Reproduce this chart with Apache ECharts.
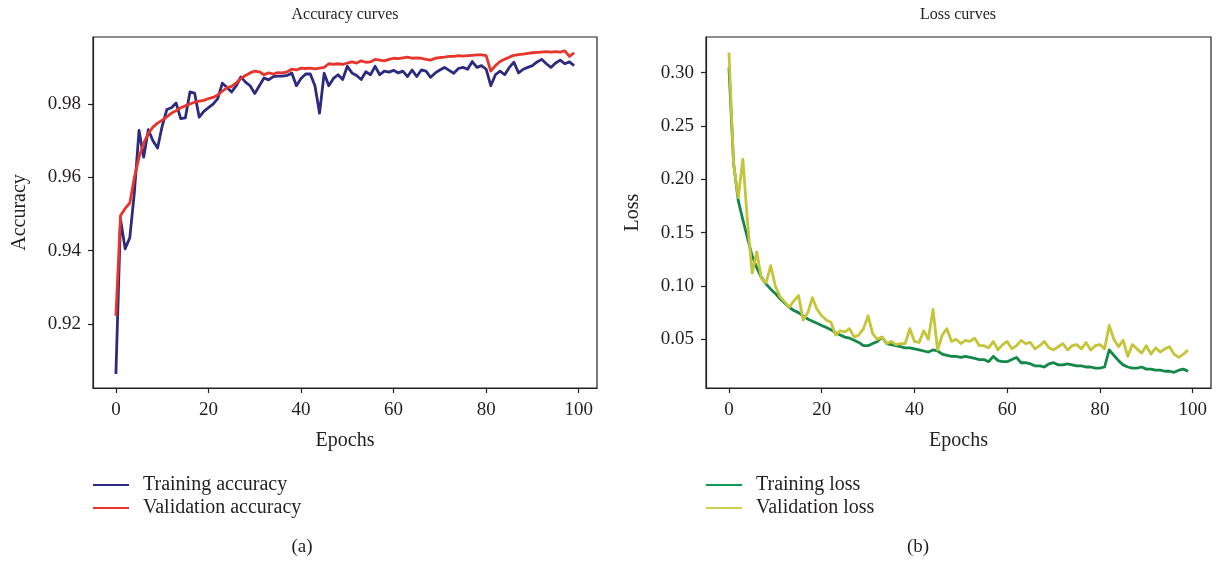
<!DOCTYPE html>
<html>
<head>
<meta charset="utf-8">
<script src="https://cdn.jsdelivr.net/npm/echarts@6/dist/echarts.min.js"></script>
<style>
html,body{margin:0;padding:0;background:#fff;}
#chart{width:1220px;height:563px;}
</style>
</head>
<body>
<div id="chart"></div>
<script>
// ---------- data ----------
const trainingAccuracy = [
0.9063,0.9485,0.9405,0.9435,0.9560,0.9728,0.9655,0.9730,0.9700,0.9680,
0.9740,0.9785,0.9790,0.9803,0.9760,0.9762,0.9833,0.9830,0.9764,0.9780,
0.9790,0.9800,0.9815,0.9857,0.9845,0.9833,0.9850,0.9874,0.9860,0.9850,
0.9829,0.9850,0.9871,0.9866,0.9875,0.9876,0.9876,0.9878,0.9885,0.9850,
0.9870,0.9882,0.9882,0.9850,0.9775,0.9884,0.9850,0.9870,0.9880,0.9867,
0.9903,0.9885,0.9878,0.9867,0.9888,0.9880,0.9903,0.9880,0.9890,0.9887,
0.9892,0.9885,0.9890,0.9875,0.9893,0.9875,0.9893,0.9890,0.9873,0.9885,
0.9893,0.9900,0.9892,0.9884,0.9897,0.9900,0.9895,0.9916,0.9900,0.9905,
0.9895,0.9850,0.9880,0.9890,0.9880,0.9900,0.9914,0.9885,0.9895,0.9900,
0.9905,0.9915,0.9922,0.9910,0.9900,0.9912,0.9920,0.9910,0.9915,0.9905];

const validationAccuracy = [
0.9222,0.9496,0.9515,0.9530,0.9600,0.9655,0.9693,0.9720,0.9737,0.9748,
0.9756,0.9765,0.9775,0.9782,0.9790,0.9795,0.9800,0.9805,0.9808,0.9810,
0.9815,0.9818,0.9825,0.9835,0.9845,0.9848,0.9858,0.9870,0.9878,0.9885,
0.9890,0.9888,0.9880,0.9885,0.9882,0.9886,0.9885,0.9888,0.9895,0.9893,
0.9898,0.9897,0.9898,0.9896,0.9898,0.9900,0.9910,0.9908,0.9910,0.9908,
0.9912,0.9915,0.9912,0.9918,0.9914,0.9915,0.9922,0.9920,0.9918,0.9922,
0.9925,0.9924,0.9926,0.9928,0.9925,0.9926,0.9925,0.9922,0.9920,0.9925,
0.9927,0.9928,0.9930,0.9930,0.9932,0.9931,0.9932,0.9933,0.9934,0.9934,
0.9932,0.9890,0.9905,0.9916,0.9922,0.9928,0.9933,0.9935,0.9936,0.9938,
0.9940,0.9941,0.9942,0.9943,0.9942,0.9943,0.9942,0.9945,0.9930,0.9940];

const trainingLoss = [
0.305,0.215,0.180,0.162,0.145,0.128,0.117,0.108,0.102,0.097,
0.093,0.088,0.084,0.080,0.077,0.075,0.072,0.069,0.067,0.065,
0.063,0.061,0.059,0.056,0.054,0.052,0.051,0.049,0.047,0.044,
0.044,0.046,0.048,0.052,0.046,0.045,0.044,0.043,0.042,0.042,
0.041,0.040,0.039,0.038,0.040,0.039,0.036,0.035,0.034,0.034,
0.033,0.034,0.033,0.032,0.031,0.031,0.029,0.034,0.030,0.029,
0.029,0.031,0.033,0.028,0.028,0.027,0.025,0.025,0.024,0.027,
0.028,0.026,0.026,0.027,0.026,0.025,0.025,0.024,0.024,0.023,
0.023,0.024,0.040,0.035,0.030,0.026,0.024,0.023,0.023,0.024,
0.022,0.022,0.021,0.021,0.020,0.020,0.019,0.021,0.022,0.020];

const validationLoss = [
0.319,0.214,0.183,0.219,0.160,0.112,0.132,0.107,0.103,0.119,
0.100,0.090,0.085,0.080,0.086,0.091,0.068,0.075,0.089,0.078,
0.072,0.068,0.066,0.054,0.058,0.057,0.060,0.052,0.054,0.060,
0.072,0.055,0.050,0.052,0.046,0.048,0.045,0.046,0.046,0.060,
0.048,0.047,0.058,0.050,0.078,0.040,0.054,0.060,0.048,0.050,
0.046,0.049,0.048,0.051,0.044,0.044,0.042,0.048,0.040,0.045,
0.048,0.041,0.044,0.049,0.046,0.047,0.041,0.044,0.048,0.042,
0.040,0.043,0.046,0.040,0.044,0.045,0.041,0.047,0.040,0.044,
0.045,0.041,0.063,0.050,0.043,0.049,0.034,0.045,0.041,0.037,
0.044,0.036,0.042,0.038,0.041,0.043,0.036,0.033,0.036,0.040];

const epochTicks = [0, 20, 40, 60, 80, 100];
const accuracyTicks = [0.92, 0.94, 0.96, 0.98];
const lossTicks = [0.05, 0.10, 0.15, 0.20, 0.25, 0.30];

// ---------- chart ----------
const FONT = "'Liberation Serif','DejaVu Serif',serif";
const TXT = '#231f20';
const pairs = arr => arr.map((v, i) => [i, v]);

function xAxisCfg(gridIndex) {
  return {
    type: 'value', gridIndex: gridIndex, min: -4.95, max: 103.95,
    name: 'Epochs', nameLocation: 'middle', nameGap: 43,
    nameTextStyle: {fontFamily: FONT, fontSize: 20, color: TXT},
    axisLine: {show: true, onZero: false, lineStyle: {color: '#222', width: 1.2}},
    axisTick: {show: true, inside: false, length: 5, customValues: epochTicks, lineStyle: {color: '#222', width: 1.2}},
    axisLabel: {customValues: epochTicks, margin: 13, fontFamily: FONT, fontSize: 19, color: TXT},
    splitLine: {show: false}
  };
}
function yAxisCfg(gridIndex, name, min, max, ticks) {
  return {
    type: 'value', gridIndex: gridIndex, min: min, max: max,
    name: name, nameLocation: 'middle', nameGap: 63,
    nameTextStyle: {fontFamily: FONT, fontSize: 20, color: TXT},
    axisLine: {show: true, onZero: false, lineStyle: {color: '#222', width: 1.2}},
    axisTick: {show: true, inside: false, length: 5, customValues: ticks, lineStyle: {color: '#222', width: 1.2}},
    axisLabel: {customValues: ticks, margin: 12, fontFamily: FONT, fontSize: 19, color: TXT,
      formatter: v => v.toFixed(2)},
    splitLine: {show: false}
  };
}
function lineSeries(name, data, xi, yi, color) {
  return {
    name: name, type: 'line', xAxisIndex: xi, yAxisIndex: yi,
    data: pairs(data), showSymbol: false, symbol: 'none', smooth: false,
    lineStyle: {color: color, width: 2.8, join: 'round'},
    itemStyle: {color: color}, animation: false, z: 3
  };
}
function legendCfg(left, names, colors) {
  return {
    orient: 'vertical', left: left, top: 475, itemGap: 3, padding: 0,
    itemWidth: 36, itemHeight: 2, icon: 'rect',
    data: names.map((n, i) => ({name: n, itemStyle: {color: colors[i]}})),
    textStyle: {fontFamily: FONT, fontSize: 20, color: TXT, lineHeight: 20, padding: [0, 0, 0, 9]},
    selectedMode: false
  };
}

const chart = echarts.init(document.getElementById('chart'), null, {renderer: 'canvas'});
chart.setOption({
  backgroundColor: '#fff',
  animation: false,
  grid: [
    {left: 93, top: 37, width: 504, height: 351, show: true, borderColor: '#222', borderWidth: 1.2, backgroundColor: 'transparent'},
    {left: 706, top: 37, width: 505, height: 351, show: true, borderColor: '#222', borderWidth: 1.2, backgroundColor: 'transparent'}
  ],
  xAxis: [xAxisCfg(0), xAxisCfg(1)],
  yAxis: [
    yAxisCfg(0, 'Accuracy', 0.9025, 0.9983, accuracyTicks),
    yAxisCfg(1, 'Loss', 0.0043, 0.3335, lossTicks)
  ],
  legend: [
    legendCfg(93, ['Training accuracy', 'Validation accuracy'], ['#2d2a80', '#e8352b']),
    legendCfg(706, ['Training loss', 'Validation loss'], ['#139a55', '#cdd050'])
  ],
  graphic: [
    {type: 'text', x: 345, y: 15, style: {text: 'Accuracy curves', font: '16px ' + FONT, fill: TXT, align: 'center', verticalAlign: 'middle'}},
    {type: 'text', x: 958, y: 15, style: {text: 'Loss curves', font: '16px ' + FONT, fill: TXT, align: 'center', verticalAlign: 'middle'}},
    {type: 'text', x: 302, y: 547, style: {text: '(a)', font: '19px ' + FONT, fill: TXT, align: 'center', verticalAlign: 'middle'}},
    {type: 'text', x: 918, y: 547, style: {text: '(b)', font: '19px ' + FONT, fill: TXT, align: 'center', verticalAlign: 'middle'}}
  ],
  series: [
    lineSeries('Training accuracy', trainingAccuracy, 0, 0, '#2d2a80'),
    lineSeries('Validation accuracy', validationAccuracy, 0, 0, '#e8352b'),
    lineSeries('Training loss', trainingLoss, 1, 1, '#13884a'),
    lineSeries('Validation loss', validationLoss, 1, 1, '#c4c53a')
  ]
});
</script>
</body>
</html>
